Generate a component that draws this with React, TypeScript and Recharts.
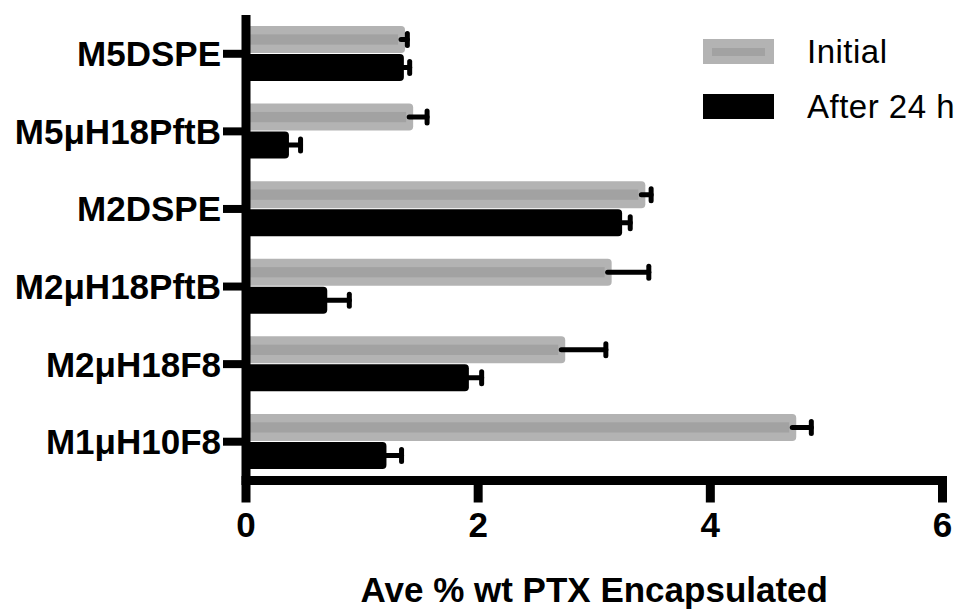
import { Bar, BarChart, Label, Legend, XAxis, YAxis } from "recharts";

const FONT = "'Liberation Sans', Arial, Helvetica, sans-serif";

const formulations = ["M5DSPE", "M5μH18PftB", "M2DSPE", "M2μH18PftB", "M2μH18F8", "M1μH10F8"];
const initialMean = [1.37, 1.44, 3.44, 3.15, 2.75, 4.74];
const initialSd = [0.02, 0.12, 0.05, 0.32, 0.35, 0.13];
const after24Mean = [1.36, 0.37, 3.24, 0.7, 1.92, 1.21];
const after24Sd = [0.05, 0.1, 0.07, 0.19, 0.11, 0.13];
const xTicks = [0, 2, 4, 6];

const data = formulations.map((name, i) => ({
  name,
  initial: initialMean[i],
  initialSd: initialSd[i],
  after: after24Mean[i],
  afterSd: after24Sd[i],
}));

// Prism style: only the +SD side is drawn, with a rounded cap
function Whisker({ x, yc, len }: { x: number; yc: number; len: number }) {
  return (
    <g stroke="#000" strokeWidth={5} strokeLinecap="round">
      <line x1={x - 4} y1={yc} x2={x + len} y2={yc} />
      <line x1={x + len} y1={yc - 6} x2={x + len} y2={yc + 6} />
    </g>
  );
}

function InitialBar(props: any) {
  const { x, y, width, height, payload } = props;
  if (!width || width <= 0) return null;
  const inset = height * 0.31;
  const pxPerUnit = width / payload.initial;
  return (
    <g>
      <rect x={x} y={y} width={width} height={height} rx={4} ry={4} fill="#b3b3b3" />
      <rect x={x} y={y + inset} width={Math.max(width - 7, 0)} height={height - 2 * inset} fill="#a2a2a2" />
      <Whisker x={x + width} yc={y + height / 2} len={payload.initialSd * pxPerUnit} />
    </g>
  );
}

function AfterBar(props: any) {
  const { x, y, width, height, payload } = props;
  if (!width || width <= 0) return null;
  const pxPerUnit = width / payload.after;
  return (
    <g>
      <rect x={x} y={y} width={width} height={height} rx={4} ry={4} fill="#000" />
      <Whisker x={x + width} yc={y + height / 2} len={payload.afterSd * pxPerUnit} />
    </g>
  );
}

function LegendBox() {
  const row = { display: "flex", alignItems: "center", height: 25, marginBottom: 30 } as const;
  const text = { marginLeft: 33, fontSize: 33, fontFamily: FONT, letterSpacing: 0.5, color: "#000", whiteSpace: "nowrap" } as const;
  return (
    <div style={{ width: 260 }}>
      <div style={row}>
        <svg width={71} height={25} style={{ display: "block" }}>
          <rect x={0} y={0} width={71} height={25} fill="#b3b3b3" />
          <rect x={9} y={9} width={53} height={8} fill="#a2a2a2" />
        </svg>
        <span style={text}>Initial</span>
      </div>
      <div style={row}>
        <svg width={71} height={25} style={{ display: "block" }}>
          <rect x={0} y={0} width={71} height={25} fill="#000" />
        </svg>
        <span style={text}>After 24 h</span>
      </div>
    </div>
  );
}

const tickStyle = { fontSize: 35, fontWeight: 700, fill: "#000", fontFamily: FONT };

export default function App() {
  return (
    <div style={{ position: "absolute", left: 0, top: 0, width: 969, height: 612, background: "#fff" }}>
      <BarChart
        width={969}
        height={612}
        data={data}
        layout="vertical"
        margin={{ top: 15, right: 26.5, bottom: 0, left: 0 }}
        barSize={27}
        barGap={1}
      >
        <Legend
          layout="vertical"
          align="center"
          verticalAlign="middle"
          content={() => <LegendBox />}
          wrapperStyle={{ position: "absolute", left: 703, top: 39, width: 260 }}
        />
        <Bar dataKey="initial" name="Initial" fill="#b3b3b3" shape={InitialBar} isAnimationActive={false} />
        <Bar dataKey="after" name="After 24 h" fill="#000" shape={AfterBar} isAnimationActive={false} />
        <XAxis
          type="number"
          domain={[0, 6]}
          ticks={xTicks}
          interval={0}
          height={131.5}
          tick={tickStyle}
          tickSize={22}
          tickMargin={10}
          axisLine={{ stroke: "#000", strokeWidth: 9, strokeLinecap: "square" }}
          tickLine={{ stroke: "#000", strokeWidth: 9 }}
        >
          <Label
            value="Ave % wt PTX Encapsulated"
            position="insideBottom"
            offset={10}
            fontSize={35}
            fontWeight={700}
            fill="#000"
            fontFamily={FONT}
          />
        </XAxis>
        <YAxis
          type="category"
          dataKey="name"
          width={246}
          interval={0}
          tick={tickStyle}
          tickSize={23}
          tickMargin={2}
          axisLine={{ stroke: "#000", strokeWidth: 9 }}
          tickLine={{ stroke: "#000", strokeWidth: 8 }}
        />
      </BarChart>
    </div>
  );
}
